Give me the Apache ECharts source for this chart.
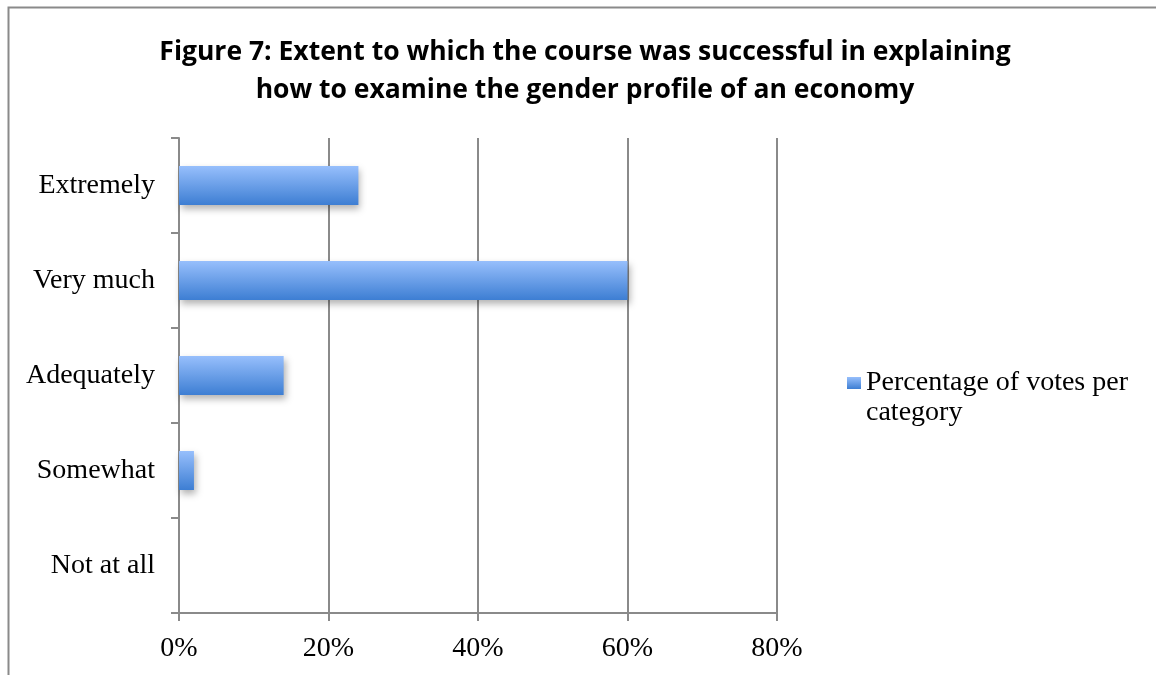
<!DOCTYPE html>
<html>
<head>
<meta charset="utf-8">
<script src="https://cdn.jsdelivr.net/npm/echarts@6/dist/echarts.min.js"></script>
<style>
  html, body { margin: 0; padding: 0; background: #fff; }
  #chart { width: 1156px; height: 675px; }
</style>
</head>
<body>
<div id="chart"></div>
<script>
// categories bottom to top, as ECharts draws a category y axis
const categories = ['Not at all', 'Somewhat', 'Adequately', 'Very much', 'Extremely']
const votePercent = [0, 2, 14, 60, 24]
const seriesName = 'Percentage of votes per category'

const chart = echarts.init(document.getElementById('chart'))

const barGradient = new echarts.graphic.LinearGradient(0, 0, 0, 1, [
  { offset: 0, color: '#97BFFC' },
  { offset: 1, color: '#3D7ED3' },
])

const serif = '"Liberation Serif", "DejaVu Serif", serif'

chart.setOption({
  animation: false,
  title: {
    text: 'Figure 7: Extent to which the course was successful in explaining\nhow to examine the gender profile of an economy',
    left: 580,
    textAlign: 'center',
    top: 28,
    textStyle: {
      fontFamily: '"Open Sans", sans-serif',
      fontWeight: 'bold',
      fontSize: 26.5,
      lineHeight: 38,
      color: '#000',
    },
  },
  graphic: [
    {
      type: 'rect',
      shape: { x: 8.5, y: 7.5, width: 1200, height: 700 },
      style: { fill: 'none', stroke: '#8a8a8a', lineWidth: 2 },
      silent: true,
    },
  ],
  legend: {
    data: [{ name: seriesName, icon: 'rect' }],
    left: 842,
    top: 333,
    orient: 'vertical',
    itemWidth: 14,
    itemHeight: 12,
    itemGap: 6,
    // leading blank line keeps the key square level with the first text line
    formatter: () => '\nPercentage of votes per\ncategory',
    textStyle: {
      fontFamily: serif,
      fontSize: 28,
      lineHeight: 30,
      color: '#000',
    },
  },
  grid: {
    left: 179,
    right: 379,
    top: 138,
    bottom: 62,
  },
  xAxis: {
    type: 'value',
    min: 0,
    max: 80,
    interval: 20,
    axisLine: { show: true, lineStyle: { color: '#8a8a8a', width: 2 } },
    axisTick: { show: true, length: 8, lineStyle: { color: '#8a8a8a', width: 2 } },
    splitLine: { show: true, lineStyle: { color: '#8a8a8a', width: 2 } },
    axisLabel: {
      formatter: '{value}%',
      margin: 22,
      fontFamily: serif,
      fontSize: 28,
      color: '#000',
    },
  },
  yAxis: {
    type: 'category',
    data: categories,
    axisLine: { show: true, lineStyle: { color: '#8a8a8a', width: 2 } },
    axisTick: { show: true, length: 8, lineStyle: { color: '#8a8a8a', width: 2 } },
    axisLabel: {
      margin: 24,
      fontFamily: serif,
      fontSize: 28,
      color: '#000',
    },
  },
  series: [
    {
      name: seriesName,
      type: 'bar',
      data: votePercent,
      barWidth: 39,
      itemStyle: {
        color: barGradient,
        shadowColor: 'rgba(0,0,0,0.3)',
        shadowBlur: 7,
        shadowOffsetX: 2,
        shadowOffsetY: 4,
      },
    },
  ],
})
</script>
</body>
</html>
